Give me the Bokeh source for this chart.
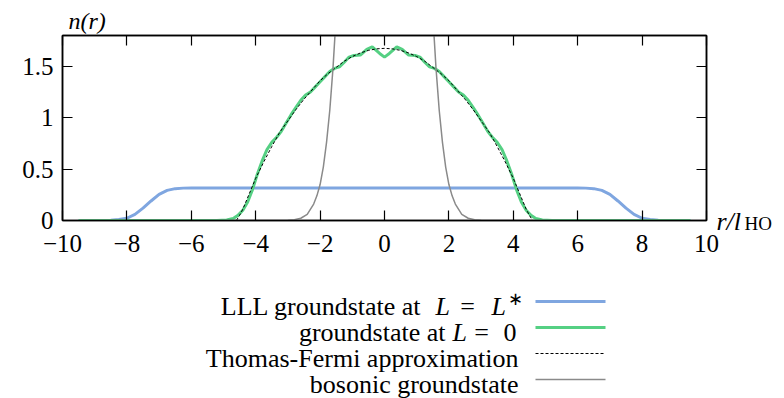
from bokeh.plotting import figure
from bokeh.models import Range1d, LinearAxis, FixedTicker, Title, Label
from bokeh.layouts import column
from bokeh.core.properties import value
from bokeh.embed import file_html
from bokeh.resources import INLINE

FONT = "Liberation Serif"

# ---------------- data ----------------
x_ticks = [-10, -8, -6, -4, -2, 0, 2, 4, 6, 8, 10]
x_tick_labels = ["\u221210", "\u22128", "\u22126", "\u22124", "\u22122", "0", "2", "4", "6", "8", "10"]
y_ticks = [0, 0.5, 1, 1.5]
y_tick_labels = ["0", "0.5", "1", "1.5"]

lll_r = [-9.5, -9.0, -8.5, -8.25, -8.0, -7.75, -7.5, -7.25, -7.0, -6.75, -6.5, -6.25, -6.0,
         0.0, 6.0, 6.25, 6.5, 6.75, 7.0, 7.25, 7.5, 7.75, 8.0, 8.25, 8.5, 9.0, 9.5]
lll_n = [0.0, 0.0, 0.003, 0.01, 0.022, 0.06, 0.12, 0.19, 0.255, 0.293, 0.31, 0.315, 0.316,
         0.316, 0.316, 0.315, 0.31, 0.293, 0.255, 0.19, 0.12, 0.06, 0.022, 0.01, 0.003, 0.0, 0.0]

gs_r = [-9.5, -7.0, -5.5, -5.2, -4.9, -4.7, -4.55, -4.4, -4.25, -4.1, -3.95, -3.8, -3.65, -3.5,
        -3.35, -3.2, -3.05, -2.9, -2.75, -2.6, -2.45, -2.3, -2.15, -2.0, -1.85, -1.7, -1.55,
        -1.4, -1.25, -1.1, -0.95, -0.75, -0.55, -0.38, -0.15, 0.0,
        0.15, 0.38, 0.55, 0.75, 0.95, 1.1, 1.25, 1.4, 1.55, 1.7, 1.85, 2.0, 2.15, 2.3, 2.45,
        2.6, 2.75, 2.9, 3.05, 3.2, 3.35, 3.5, 3.65, 3.8, 3.95, 4.1, 4.25, 4.4, 4.55, 4.7, 4.9,
        5.2, 5.5, 7.0, 9.5]
gs_n = [0.0, 0.0, 0.0, 0.0, 0.006, 0.02, 0.05, 0.10, 0.18, 0.30, 0.45, 0.58, 0.69, 0.76,
        0.81, 0.87, 0.95, 1.03, 1.10, 1.17, 1.22, 1.25, 1.30, 1.35, 1.40, 1.45, 1.48,
        1.495, 1.54, 1.59, 1.605, 1.61, 1.665, 1.69, 1.625, 1.59,
        1.625, 1.69, 1.665, 1.61, 1.605, 1.59, 1.54, 1.495, 1.48, 1.45, 1.40, 1.35, 1.30, 1.25, 1.22,
        1.17, 1.10, 1.03, 0.95, 0.87, 0.81, 0.76, 0.69, 0.58, 0.45, 0.30, 0.18, 0.10, 0.05, 0.02, 0.006,
        0.0, 0.0, 0.0, 0.0]

tf_r = [-4.6, -4.5, -4.4, -4.2, -4.0, -3.75, -3.5, -3.25, -3.0, -2.75, -2.5, -2.25, -2.0, -1.75,
        -1.5, -1.25, -1.0, -0.75, -0.5, -0.25, 0.0, 0.25, 0.5, 0.75, 1.0, 1.25, 1.5, 1.75, 2.0,
        2.25, 2.5, 2.75, 3.0, 3.25, 3.5, 3.75, 4.0, 4.2, 4.4, 4.5, 4.6]
tf_n = [0.0, 0.05, 0.11, 0.26, 0.41, 0.57, 0.72, 0.86, 0.97, 1.08, 1.18, 1.27, 1.36, 1.43,
        1.49, 1.55, 1.595, 1.63, 1.655, 1.67, 1.675, 1.67, 1.655, 1.63, 1.595, 1.55, 1.49, 1.43, 1.36,
        1.27, 1.18, 1.08, 0.97, 0.86, 0.72, 0.57, 0.41, 0.26, 0.11, 0.05, 0.0]

bos_r = [-9.5, -3.5, -3.2, -3.0, -2.8, -2.6, -2.4, -2.2, -2.1, -2.0, -1.9, -1.8, -1.7, -1.6,
         -1.5, -1.4, -1.2, -1.0, -0.5, 0.0, 0.5, 1.0, 1.2, 1.4, 1.5, 1.6, 1.7, 1.8, 1.9, 2.0,
         2.1, 2.2, 2.4, 2.6, 2.8, 3.0, 3.2, 3.5, 9.5]
bos_n = [0.0, 0.0, 0.001, 0.003, 0.008, 0.022, 0.06, 0.16, 0.24, 0.35, 0.52, 0.76, 1.07, 1.48,
         2.0, 2.7, 4.5, 7.0, 15.0, 19.0, 15.0, 7.0, 4.5, 2.7, 2.0, 1.48, 1.07, 0.76, 0.52, 0.35,
         0.24, 0.16, 0.06, 0.022, 0.008, 0.003, 0.001, 0.0, 0.0]

labels = ["LLL groundstate at L = L*", "groundstate at L = 0",
          "Thomas-Fermi approximation", "bosonic groundstate"]

BLUE = "#7fa6e0"
GREEN = "#55d083"
GRAY = "#8a8a8a"

# ---------------- main plot ----------------
p = figure(width=784, height=260, x_range=Range1d(-10, 10), y_range=Range1d(0, 1.8),
           output_backend="svg", toolbar_location=None,
           min_border_left=62, min_border_right=78, min_border_top=35, min_border_bottom=40)
p.xgrid.visible = False
p.ygrid.visible = False
p.outline_line_color = "black"
p.outline_line_width = 1.5
p.background_fill_color = "white"
p.border_fill_color = "white"

xt = FixedTicker(ticks=x_ticks)
yt = FixedTicker(ticks=y_ticks)


def style(ax, show_labels):
    ax.major_tick_in = 10
    ax.major_tick_out = 0
    ax.minor_tick_line_color = None
    ax.axis_line_width = 1.5
    ax.axis_line_color = "black"
    ax.major_tick_line_color = "black"
    ax.major_tick_line_width = 1.2
    ax.major_label_text_font = FONT
    if show_labels:
        ax.major_label_text_color = "black"
        ax.major_label_standoff = 8
        ax.major_label_text_font_size = "25px"
    else:
        ax.major_label_text_color = None
        ax.major_label_standoff = 0
        ax.major_label_text_font_size = "1px"


p.xaxis.ticker = xt
p.xaxis.major_label_overrides = {t: s for t, s in zip(x_ticks, x_tick_labels)}
p.yaxis.ticker = yt
p.yaxis.major_label_overrides = {t: s for t, s in zip(y_ticks, y_tick_labels)}
style(p.xaxis[0], True)
style(p.yaxis[0], True)
p.xaxis[0].major_label_standoff = 14
p.yaxis[0].major_label_standoff = 9

top = LinearAxis(ticker=xt)
style(top, False)
p.add_layout(top, "above")
right = LinearAxis(ticker=yt)
style(right, False)
p.add_layout(right, "right")

# y-axis label as a title above the frame
p.add_layout(Title(text="n(r)", align="left", offset=6, standoff=3,
                   text_font=FONT, text_font_size="24px", text_font_style="italic",
                   text_color="black"), "above")

p.line(lll_r, lll_n, line_color=BLUE, line_width=3)
p.line(gs_r, gs_n, line_color=GREEN, line_width=3)
p.line(tf_r, tf_n, line_color="black", line_width=1, line_dash="3 2")
p.line(bos_r, bos_n, line_color=GRAY, line_width=1.5)


def dx(px):
    return (px - 62) / 32.2 - 10


def dy(py):
    return (220 - py) / 102.78


# x-axis label r/l_HO, right of the frame (side-panel labels are not clipped)
p.add_layout(Label(x=dx(716), y=dy(221), text="r/l", text_font=FONT, text_font_size="26px",
                   text_font_style="italic", text_baseline="alphabetic", text_color="black"),
             "right")
p.add_layout(Label(x=dx(744), y=dy(223), text="HO", text_font=FONT, text_font_size="19px",
                   text_baseline="alphabetic", text_color="black"), "right")

# ---------------- legend area ----------------
q = figure(width=784, height=138, x_range=Range1d(62, 706), y_range=Range1d(138, 0),
           output_backend="svg", toolbar_location=None, x_axis_type=None, y_axis_type=None,
           min_border_left=62, min_border_right=78, min_border_top=0, min_border_bottom=0)
q.xgrid.visible = False
q.ygrid.visible = False
q.outline_line_color = None
q.background_fill_color = "white"
q.border_fill_color = "white"

row_y = [41, 67, 93, 119]
base_y = [y + 5 for y in row_y]
FS = "26px"


def t(x, y, s, align="left", style_="normal", size=FS):
    q.text(x=[x], y=[y], text=[s], text_align=align, text_baseline="alphabetic",
           text_font=value(FONT), text_font_size=size, text_font_style=style_, text_color="black")


# row 1
t(421, base_y[0], "LLL groundstate at", align="right")
t(435, base_y[0], "L", style_="italic")
t(467, base_y[0], "=", align="center")
t(491, base_y[0], "L", style_="italic")
t(507, base_y[0] - 8, "\u2217", size="18px")
# row 2
t(445, base_y[1], "groundstate at", align="right")
t(452, base_y[1], "L", style_="italic")
t(481, base_y[1], "=", align="center")
t(516, base_y[1], "0", align="right")
# rows 3, 4
t(518, base_y[2], labels[2], align="right")
t(518, base_y[3], labels[3], align="right")

q.line([535, 605], [row_y[0]] * 2, line_color=BLUE, line_width=3)
q.line([535, 605], [row_y[1]] * 2, line_color=GREEN, line_width=3)
q.line([535, 605], [row_y[2]] * 2, line_color="black", line_width=1, line_dash="3 2")
q.line([535, 605], [row_y[3]] * 2, line_color=GRAY, line_width=1.5)

layout = column(p, q, spacing=0)
open("out.html", "w").write(file_html(layout, INLINE))
